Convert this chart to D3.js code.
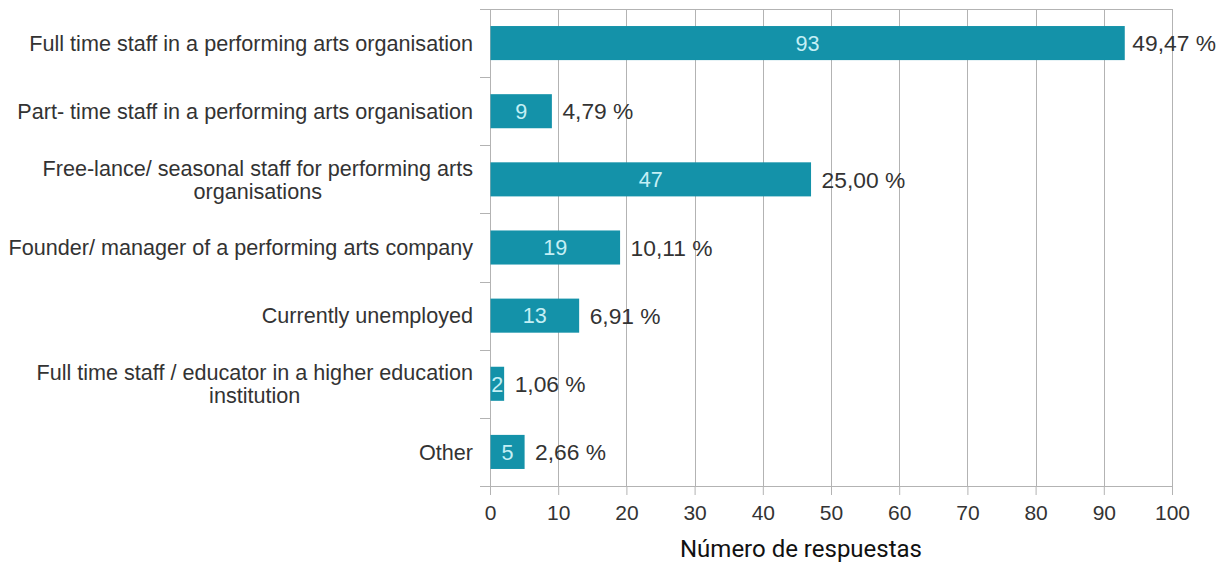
<!DOCTYPE html>
<html>
<head>
<meta charset="utf-8">
<script src="https://cdn.jsdelivr.net/npm/d3@7"></script>
<style>
  html, body { margin: 0; padding: 0; background: #fff; }
  svg { display: block; }
</style>
</head>
<body>
<svg id="chart" width="1218" height="562"></svg>
<script>
// Survey: current occupation of respondents
const categories = [
  ["Full time staff in a performing arts organisation"],
  ["Part- time staff in a performing arts organisation"],
  ["Free-lance/ seasonal staff for performing arts", "organisations"],
  ["Founder/ manager of a performing arts company"],
  ["Currently unemployed"],
  ["Full time staff / educator in a higher education", "institution"],
  ["Other"]
];
const counts = [93, 9, 47, 19, 13, 2, 5];
const percents = [49.47, 4.79, 25.00, 10.11, 6.91, 1.06, 2.66];
const xTicks = [0, 10, 20, 30, 40, 50, 60, 70, 80, 90, 100];
const xTitle = "Número de respuestas";

const W = 1218, H = 562;
const plotLeft = 490, plotRight = 1172, plotTop = 9, plotBottom = 486;
const barColor = "#1492a9";
const gridColor = "#b3b3b3";
const textColor = "#333333";
const font = "'Liberation Sans', Arial, sans-serif";

const svg = d3.select("#chart");

const x = d3.scaleLinear().domain([0, 100]).range([plotLeft, plotRight]);
const y = d3.scaleBand()
  .domain(d3.range(categories.length))
  .range([plotTop, plotBottom])
  .paddingInner(0.5)
  .paddingOuter(0.25);
const step = y.step();

// vertical grid lines
svg.append("g")
  .selectAll("line")
  .data(xTicks)
  .join("line")
  .attr("x1", d => Math.round(x(d)) + 0.5).attr("x2", d => Math.round(x(d)) + 0.5)
  .attr("y1", plotTop).attr("y2", plotBottom)
  .attr("stroke", gridColor).attr("stroke-width", 1);

// top border of the plot area
svg.append("line")
  .attr("x1", plotLeft).attr("x2", plotRight + 1)
  .attr("y1", plotTop + 0.5).attr("y2", plotTop + 0.5)
  .attr("stroke", gridColor);

// x axis
const xAxis = svg.append("g")
  .attr("transform", `translate(0,${plotBottom})`)
  .call(d3.axisBottom(x).tickValues(xTicks).tickSize(9).tickPadding(10).tickFormat(d3.format("d")));
xAxis.select(".domain").remove();
xAxis.selectAll(".tick line").attr("stroke", gridColor);
xAxis.selectAll(".tick text")
  .attr("fill", textColor)
  .style("font-family", font)
  .style("font-size", "21px");
svg.append("line")
  .attr("x1", plotLeft - 10).attr("x2", plotRight + 1)
  .attr("y1", plotBottom + 0.5).attr("y2", plotBottom + 0.5)
  .attr("stroke", gridColor);

// y axis line and category separators
svg.append("line")
  .attr("x1", plotLeft + 0.5).attr("x2", plotLeft + 0.5)
  .attr("y1", plotTop).attr("y2", plotBottom)
  .attr("stroke", gridColor);
svg.append("g")
  .selectAll("line")
  .data(d3.range(categories.length))
  .join("line")
  .attr("x1", plotLeft - 10).attr("x2", plotLeft)
  .attr("y1", i => Math.round(plotTop + i * step) + 0.5)
  .attr("y2", i => Math.round(plotTop + i * step) + 0.5)
  .attr("stroke", gridColor);

// category labels (multi-line labels are centred on each other, block right-aligned)
const lineH = 23;
categories.forEach((lines, i) => {
  const cy = y(i) + y.bandwidth() / 2;
  const g = svg.append("text")
    .attr("fill", textColor)
    .style("font-family", font)
    .style("font-size", "21.6px");
  const tspans = lines.map((ln, k) => g.append("tspan")
    .attr("y", cy + (k - (lines.length - 1) / 2) * lineH)
    .attr("dy", "0.36em")
    .text(ln));
  const widths = tspans.map(t => t.node().getComputedTextLength());
  const maxW = d3.max(widths);
  const rightEdge = plotLeft - 17;
  tspans.forEach(t => t.attr("x", rightEdge - maxW / 2).attr("text-anchor", "middle"));
});

// bars
svg.append("g")
  .selectAll("rect")
  .data(counts)
  .join("rect")
  .attr("x", x(0) + 0.5)
  .attr("y", (d, i) => y(i))
  .attr("width", d => x(d) - x(0))
  .attr("height", y.bandwidth())
  .attr("fill", barColor);

// counts inside the bars
svg.append("g")
  .selectAll("text")
  .data(counts)
  .join("text")
  .attr("x", d => (x(0) + x(d)) / 2 + 0.5)
  .attr("y", (d, i) => y(i) + y.bandwidth() / 2)
  .attr("dy", "0.36em")
  .attr("text-anchor", "middle")
  .attr("fill", "#c4eff5")
  .style("font-family", font)
  .style("font-size", "21.6px")
  .text(d => d);

// percentage labels next to the bars
const fmtPct = p => p.toFixed(2).replace(".", ",") + " %";
svg.append("g")
  .selectAll("text")
  .data(counts)
  .join("text")
  .attr("y", (d, i) => y(i) + y.bandwidth() / 2)
  .attr("dy", "0.36em")
  .attr("fill", textColor)
  .style("font-family", font)
  .style("font-size", "22.8px")
  .text((d, i) => fmtPct(percents[i]))
  .each(function (d) {
    const w = this.getComputedTextLength();
    const px = Math.min(x(d) + 11, W - 2 - w);
    d3.select(this).attr("x", Math.max(px, x(d) + 3));
  });

// axis title
svg.append("text")
  .attr("x", 801)
  .attr("y", 557)
  .attr("text-anchor", "middle")
  .attr("fill", "#111")
  .style("font-family", "Roboto, 'Noto Sans', sans-serif")
  .style("font-size", "24px")
  .text(xTitle);
</script>
</body>
</html>
